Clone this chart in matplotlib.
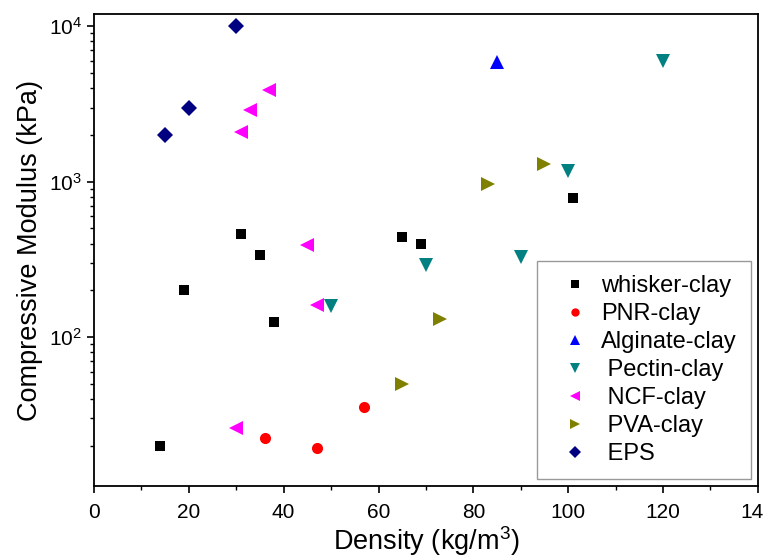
import matplotlib
matplotlib.use("Agg")
import matplotlib.pyplot as plt
from matplotlib.ticker import LogLocator, MultipleLocator, LogFormatterMathtext, NullFormatter

plt.rcParams["font.family"] = ["Liberation Sans", "DejaVu Sans"]
plt.rcParams["mathtext.default"] = "regular"

# data (density kg/m3, compressive modulus kPa)
whisker_x = [14, 19, 31, 35, 38, 65, 69, 101]
whisker_y = [20, 200, 460, 340, 125, 440, 400, 790]

pnr_x = [36, 47, 57]
pnr_y = [22.5, 19.3, 35.5]

alginate_x = [85]
alginate_y = [5900]

pectin_x = [50, 70, 90, 100, 120]
pectin_y = [158, 290, 330, 1180, 6000]

ncf_x = [30, 31, 33, 37, 45, 47]
ncf_y = [26, 2100, 2900, 3900, 390, 160]

pva_x = [65, 73, 83, 95]
pva_y = [50, 131, 970, 1300]

eps_x = [15, 20, 30]
eps_y = [2000, 3000, 10000]

series = [
    (whisker_x, whisker_y, "whisker-clay", "s", "#000000", 7.5),
    (pnr_x, pnr_y, "PNR-clay", "o", "#FF0000", 8),
    (alginate_x, alginate_y, "Alginate-clay", "^", "#0000FF", 10),
    (pectin_x, pectin_y, " Pectin-clay", "v", "#008080", 10),
    (ncf_x, ncf_y, " NCF-clay", "<", "#FF00FF", 10),
    (pva_x, pva_y, " PVA-clay", ">", "#808000", 10),
    (eps_x, eps_y, " EPS", "D", "#000080", 8),
]

fig = plt.figure(figsize=(7.64, 5.6), dpi=100)
ax = fig.add_axes([0.123, 0.132, 0.869, 0.843])

for xs, ys, label, marker, color, ms in series:
    ax.plot(xs, ys, ls="none", marker=marker, color=color, markersize=ms,
            markeredgewidth=0, label=label)

ax.set_yscale("log")
ax.set_xlim(0, 140)
ax.set_ylim(11, 12000)

ax.xaxis.set_major_locator(MultipleLocator(20))
ax.xaxis.set_minor_locator(MultipleLocator(10))
ax.yaxis.set_major_locator(LogLocator(base=10, numticks=10))
ax.yaxis.set_minor_locator(LogLocator(base=10, subs=range(2, 10), numticks=10))
ax.yaxis.set_major_formatter(LogFormatterMathtext())
ax.yaxis.set_minor_formatter(NullFormatter())

ax.tick_params(which="major", direction="out", length=5, width=1.2, labelsize=15)
ax.tick_params(axis="x", which="major", pad=7)
ax.tick_params(which="minor", direction="out", length=3, width=1.0)
for sp in ax.spines.values():
    sp.set_linewidth(1.3)

ax.set_xlabel("Density (kg/m$^3$)", fontsize=19.5, labelpad=2)
ax.set_ylabel("Compressive Modulus (kPa)", fontsize=19.5, labelpad=4)

leg = ax.legend(loc="lower right", fontsize=17, frameon=True, fancybox=False,
                edgecolor="#808080", markerscale=0.75, handlelength=2.0,
                handletextpad=0.1, labelspacing=0.25, borderaxespad=0.3,
                borderpad=0.6)
leg.get_frame().set_linewidth(1.0)

fig.savefig("out.png", dpi=100)
